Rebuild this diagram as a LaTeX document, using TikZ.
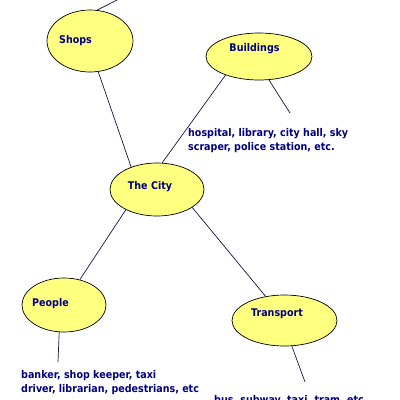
\documentclass[tikz,border=0pt]{standalone}
\usepackage{fontspec}
\setmainfont{DejaVu Sans}[FakeStretch=0.9]
\usepackage{tikz}
\usetikzlibrary{shapes.geometric}
\definecolor{topicfill}{RGB}{255,255,128}
\definecolor{inkblue}{RGB}{0,0,128}
\definecolor{linkcol}{RGB}{20,20,70}

\begin{document}
\begin{tikzpicture}[
    x=1pt, y=-1pt,
    topic/.style={ellipse, draw=black, line width=0.7pt, fill=topicfill, inner sep=0pt},
    topictext/.style={text=inkblue, font=\fontsize{10.6}{14}\selectfont\bfseries},
    link/.style={draw=linkcol, line width=0.7pt},
    note/.style={anchor=north west, inner sep=0pt, align=left, text=inkblue, font=\fontsize{10.6}{14}\selectfont\bfseries}
]
\useasboundingbox (0,0) rectangle (400,400);
\clip (0,0) rectangle (400,400);

% themen
\node[topic, minimum width=86pt, minimum height=62pt,
  label={[topictext, xshift=-14.5pt]center:Shops}] (shops) at (90,41) {};
\node[topic, minimum width=106pt, minimum height=47pt,
  label={[topictext, xshift=-4.5pt, yshift=7.5pt]center:Buildings}] (buildings) at (259,56.5) {};
\node[topic, minimum width=94pt, minimum height=53pt,
  label={[topictext, xshift=-7pt, yshift=2.5pt]center:The City}] (city) at (157,189.5) {};
\node[topic, minimum width=84pt, minimum height=54pt,
  label={[topictext, xshift=-13.5pt, yshift=1pt]center:People}] (people) at (64,305) {};
\node[topic, minimum width=105pt, minimum height=51pt,
  label={[topictext, xshift=-7.5pt, yshift=6.5pt]center:Transport}] (transport) at (284.5,320.5) {};

% beispiele
\node[note] (bldgnote) at (188,128) {hospital, library, city hall, sky\\scraper, police station, etc.};
\node[note] (peoplenote) at (21,370) {banker, shop keeper, taxi\\driver, librarian, pedestrians, etc};
\node[note] (transnote) at (214,395) {bus, subway, taxi, tram, etc.};

% freie enden
\coordinate (shopsend) at (137,-10);
\coordinate (bldgend) at (290,113);
\coordinate (peopleend) at (58,362);
\coordinate (transend) at (305,382);

% linien
\draw[link] (shops.77) -- (shopsend);
\draw[link] (shops.-75) -- (city.139);
\draw[link] (buildings.209) -- (city.79);
\draw[link] (buildings.-67) -- (bldgend);
\draw[link] (city.213) -- (people.58);
\draw[link] (city.-27) -- (transport.128);
\draw[link] (people.-100) -- (peopleend);
\draw[link] (transport.-74) -- (transend);

\end{tikzpicture}
\end{document}
